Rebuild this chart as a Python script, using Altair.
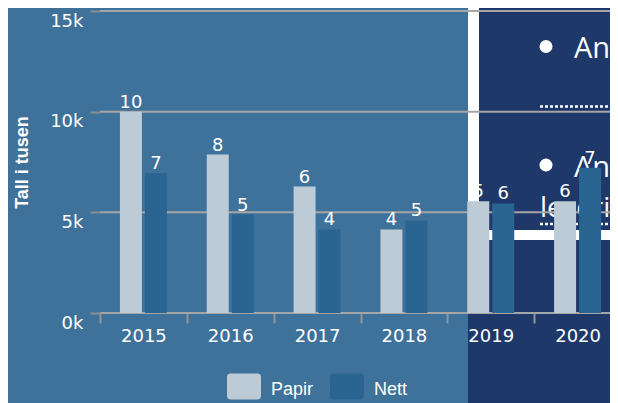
import altair as alt
import pandas as pd

years = ["2015", "2016", "2017", "2018", "2019", "2020"]
series = ["Papir", "Nett"]
papir = [10000, 7870, 6280, 4150, 5550, 5550]
nett = [6950, 4890, 4150, 4600, 5440, 7210]
papir_labels = ["10", "8", "6", "4", "5", "6"]
nett_labels = ["7", "5", "4", "5", "6", "7"]
y_ticks = [0, 5000, 10000, 15000]
bar_colors = ["#bccbd6", "#2a6592"]

BG = "#3f729b"
DARK = "#1d3869"
GRID = "#a6a6a6"
TICK = "#949494"

rows = []
for i, yr in enumerate(years):
    rows.append({"year": yr, "type": "Papir", "value": papir[i], "label": papir_labels[i]})
    rows.append({"year": yr, "type": "Nett", "value": nett[i], "label": nett_labels[i]})
df = pd.DataFrame(rows)
grid_df = pd.DataFrame({"v": y_ticks})
one = pd.DataFrame({"k": [0]})

yscale = alt.Scale(domain=[0, 15000], nice=False)
yaxis = alt.Axis(
    values=y_ticks, grid=False, domain=False, ticks=True, tickSize=10,
    tickWidth=2, tickColor="#8c8c8c", labelExpr="datum.value/1000 + 'k'",
    labelColor="white", labelFont="DejaVu Sans", labelFontSize=18,
    labelBaseline="top", labelPadding=7, labelOffset=1,
    title="Tall i tusen", titleColor="white", titleFont="Liberation Sans",
    titleFontSize=18, titleFontWeight="bold", titleBaseline="alphabetic",
    titleX=-73, titleY=151, titleAngle=-90, zindex=1,
)
xscale = alt.Scale(domain=years, range=[0, 521], paddingInner=0, paddingOuter=0)
xaxis = alt.Axis(
    title=None, domain=False, grid=False, ticks=True, tickBand="extent",
    tickSize=10, tickWidth=2, tickColor=TICK, labelColor="white",
    labelFont="DejaVu Sans", labelFontSize=18, labelPadding=4, labelAngle=0,
    zindex=1,
)
offscale = alt.Scale(domain=series, paddingInner=0.12, paddingOuter=0.797)

# decorative background panel (overlay image area)
dark = alt.Chart(one).mark_rect(color=DARK).encode(
    x=alt.value(368), x2=alt.value(540), y=alt.value(-15), y2=alt.value(400))
strip = alt.Chart(one).mark_rect(color="white").encode(
    x=alt.value(368), x2=alt.value(379), y=alt.value(-15), y2=alt.value(219))
hbar = alt.Chart(one).mark_rect(color="white").encode(
    x=alt.value(368), x2=alt.value(540), y=alt.value(219), y2=alt.value(229))
dots1 = alt.Chart(one).mark_rule(color="white", strokeWidth=2.5, strokeDash=[3, 2]).encode(
    x=alt.value(440), x2=alt.value(540), y=alt.value(95.5))
dots2 = alt.Chart(one).mark_rule(color="white", strokeWidth=2.5, strokeDash=[3, 2]).encode(
    x=alt.value(440), x2=alt.value(540), y=alt.value(213))
bullet1 = alt.Chart(one).mark_circle(color="white", opacity=1, size=170).encode(
    x=alt.value(446), y=alt.value(35.5))
bullet2 = alt.Chart(one).mark_circle(color="white", opacity=1, size=170).encode(
    x=alt.value(446), y=alt.value(154))
txt1 = alt.Chart(one).mark_text(color="white", font="Open Sans", fontSize=29,
                                align="left", baseline="alphabetic").encode(
    x=alt.value(474), y=alt.value(47), text=alt.value("Antall"))
txt2 = alt.Chart(one).mark_text(color="white", font="Open Sans", fontSize=29,
                                align="left", baseline="alphabetic").encode(
    x=alt.value(474), y=alt.value(166), text=alt.value("Antall"))
txt3 = alt.Chart(one).mark_text(color="white", font="Open Sans", fontSize=28,
                                align="left", baseline="alphabetic").encode(
    x=alt.value(440), y=alt.value(206), text=alt.value("leserinntekter"))

gridlines = alt.Chart(grid_df).mark_rule(color=GRID, strokeWidth=2).encode(
    y=alt.Y("v:Q", scale=yscale, axis=yaxis))

legend_path = ("M-0.78,-1 L0.78,-1 Q1,-1 1,-0.78 L1,0.31 Q1,0.53 0.78,0.53 "
               "L-0.78,0.53 Q-1,0.53 -1,0.31 L-1,-0.78 Q-1,-1 -0.78,-1 Z")

bars = alt.Chart(df).mark_bar().encode(
    x=alt.X("year:N", scale=xscale, axis=xaxis),
    xOffset=alt.XOffset("type:N", sort=series, scale=offscale),
    y=alt.Y("value:Q", scale=yscale, axis=yaxis),
    color=alt.Color("type:N", sort=series,
                    scale=alt.Scale(domain=series, range=bar_colors),
                    legend=alt.Legend(
                        title=None, orient="none", direction="horizontal",
                        legendX=127, legendY=362, padding=0,
                        symbolType=legend_path, symbolSize=1156,
                        symbolStrokeWidth=0, symbolOpacity=1,
                        labelColor="white", labelFont="Liberation Sans",
                        labelFontSize=18, labelOffset=10, columnPadding=16,
                        labelBaseline="middle")),
)

labels = alt.Chart(df).mark_text(
    color="white", font="DejaVu Sans", fontSize=18, baseline="alphabetic", dy=-4
).encode(
    x=alt.X("year:N", scale=xscale, axis=xaxis),
    xOffset=alt.XOffset("type:N", sort=series, scale=offscale),
    y=alt.Y("value:Q", scale=yscale, axis=yaxis),
    text="label:N",
)

chart = alt.layer(
    dark, strip, hbar, dots1, dots2, bullet1, bullet2, txt1, txt2, txt3,
    gridlines, bars, labels
).properties(
    width=510, height=302,
    padding={"left": 92, "top": 3, "right": 0, "bottom": 90},
    autosize=alt.AutoSizeParams(type="none"),
    background=BG,
).configure_view(stroke=None)

chart.save("out.html", embed_options={"renderer": "svg", "actions": False})
